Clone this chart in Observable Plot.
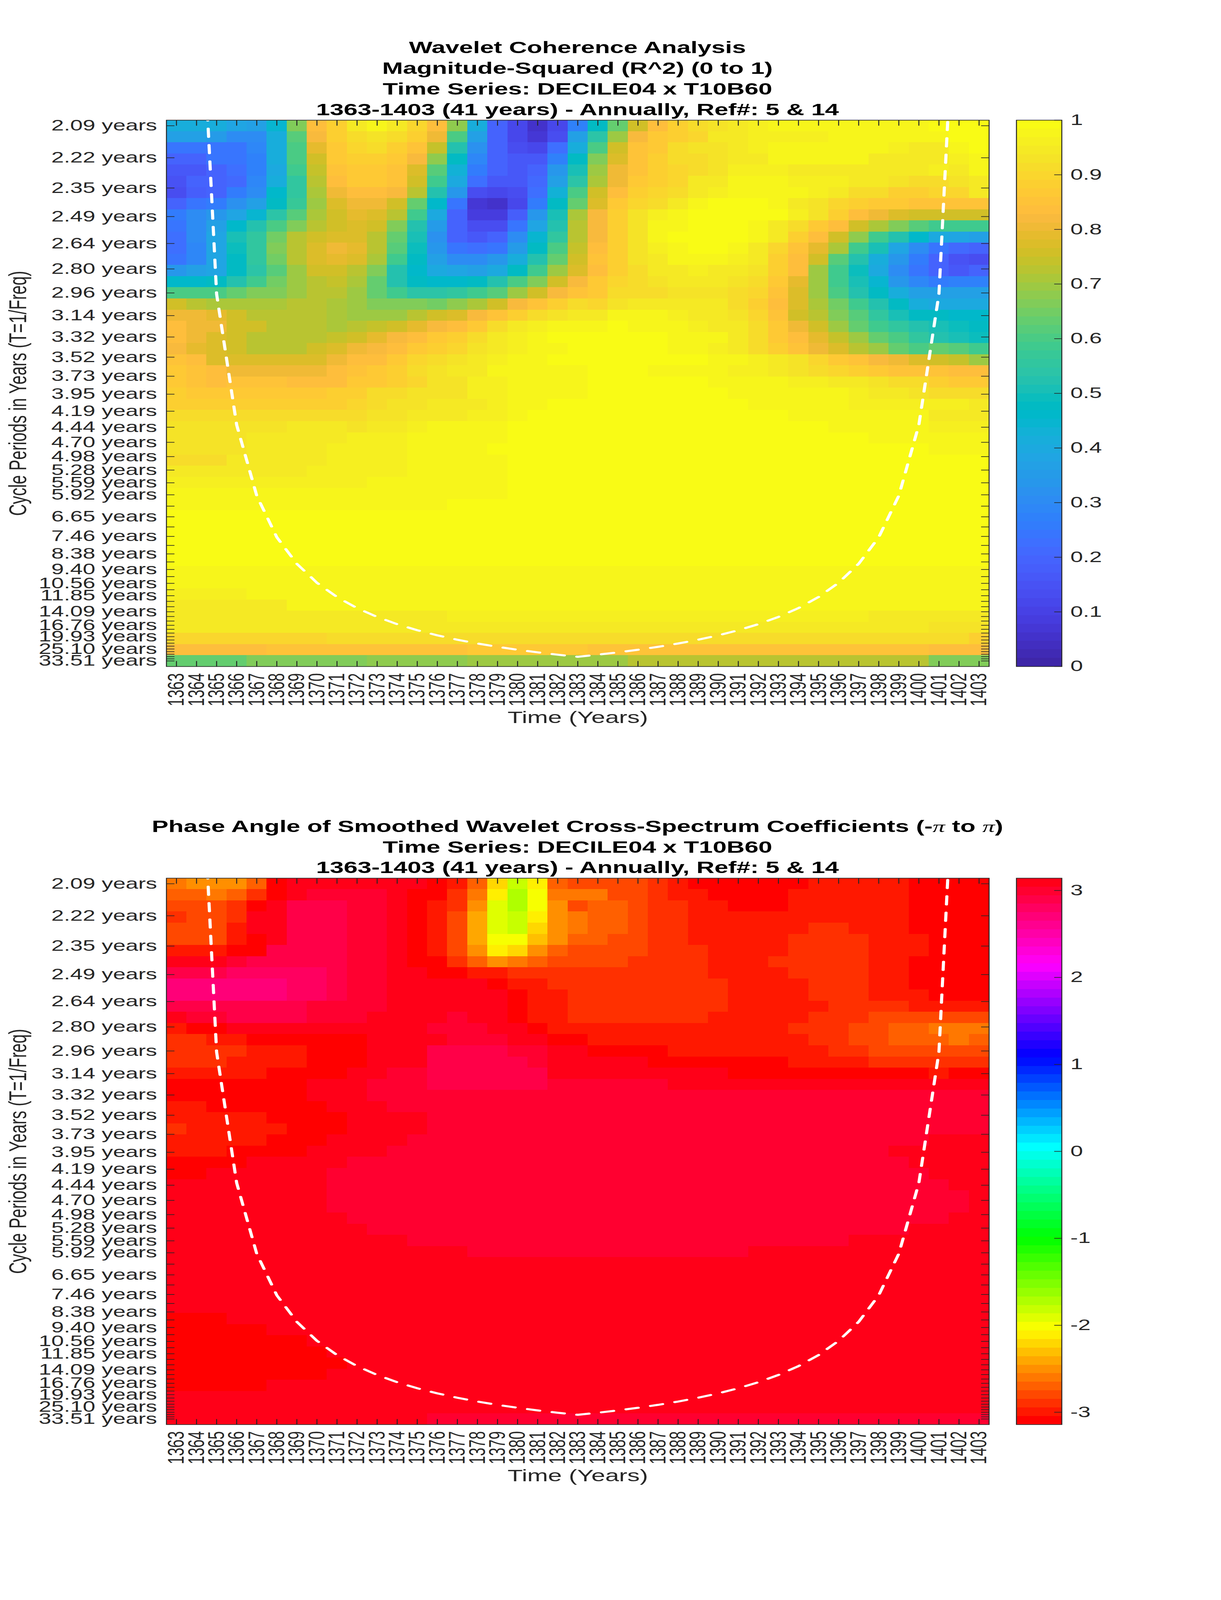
<!DOCTYPE html>
<html><head><meta charset="utf-8">
<script src="https://cdn.jsdelivr.net/npm/d3@7"></script>
<script src="https://cdn.jsdelivr.net/npm/@observablehq/plot@0.6"></script>
<style>
html,body{margin:0;padding:0;background:#fff;overflow:hidden}
#stage{position:relative;width:3125px;height:6252px;overflow:hidden;transform-origin:0 0;font-family:"Liberation Sans",Arial,sans-serif}
.t{position:absolute;left:1478px;transform:translateX(-50%);white-space:nowrap;font-weight:bold;font-size:63.7px;line-height:63.7px;color:#000}
.t span{font-family:"Liberation Serif",serif;font-style:italic;font-weight:normal}
</style></head><body><div id="stage"></div>
<script>
const years = [1363,1364,1365,1366,1367,1368,1369,1370,1371,1372,1373,1374,1375,1376,1377,1378,1379,1380,1381,1382,1383,1384,1385,1386,1387,1388,1389,1390,1391,1392,1393,1394,1395,1396,1397,1398,1399,1400,1401,1402,1403];
const periods = [2.0944,2.2189,2.3509,2.4907,2.6388,2.7957,2.9619,3.1381,3.3247,3.5223,3.7318,3.9537,4.1888,4.4378,4.7018,4.9814,5.2776,5.5914,5.9238,6.2762,6.6494,7.0446,7.4636,7.9074,8.3776,8.8756,9.4036,9.9628,10.5552,11.1828,11.8476,12.5524,13.2988,14.0892,14.9272,15.8148,16.7552,17.7512,18.8072,19.9256,21.1104,22.3656,23.6952,25.1048,26.5976,28.1784,29.8544,31.6296,33.5104];
const periodLabels = ["2.09 years","2.22 years","2.35 years","2.49 years","2.64 years","2.80 years","2.96 years","3.14 years","3.32 years","3.52 years","3.73 years","3.95 years","4.19 years","4.44 years","4.70 years","4.98 years","5.28 years","5.59 years","5.92 years","","6.65 years","","7.46 years","","8.38 years","","9.40 years","","10.56 years","","11.85 years","","","14.09 years","","","16.76 years","","","19.93 years","","","","25.10 years","","","","","33.51 years"];
const coiYearsLeft = [1364,1365,1366,1367,1368,1369,1370,1371,1372,1373,1374,1375,1376,1377,1378,1379,1380,1381,1382,1383,1384,1385,1386,1387,1388,1389,1390,1391,1392,1393,1394,1395,1396,1397,1398,1399,1400,1401,1402];
const coiPeriods = [1.5,2.97,4.4,5.95,7.5,9,10.5,12,13.5,15,16.5,18,19.5,21,22.5,24,25.5,27,28.5,30,28.5,27,25.5,24,22.5,21,19.5,18,16.5,15,13.5,12,10.5,9,7.5,5.95,4.4,2.97,1.5];
const coherenceTicks = [0,0.1,0.2,0.3,0.4,0.5,0.6,0.7,0.8,0.9,1];
const phaseTicks = [-3,-2,-1,0,1,2,3];
const parula = [[.2422,.1504,.6603],[.2504,.165,.7076],[.2578,.1818,.7511],[.2647,.1978,.7952],[.2706,.2147,.8364],[.2751,.2342,.871],[.2783,.2559,.8991],[.2803,.2782,.9221],[.2813,.3006,.9414],[.281,.3228,.9579],[.2795,.3447,.9717],[.276,.3667,.9829],[.2699,.3892,.9906],[.2602,.4123,.9952],[.244,.4358,.9988],[.2206,.4603,.9973],[.1963,.4847,.9892],[.1834,.5074,.9798],[.1786,.5289,.9682],[.1764,.5499,.952],[.1687,.5703,.9359],[.154,.5902,.9218],[.146,.6091,.9079],[.138,.6276,.8973],[.1248,.6459,.8883],[.1113,.6635,.8763],[.0952,.6798,.8598],[.0689,.6948,.8394],[.0297,.7082,.8163],[.0036,.7203,.7917],[.0067,.7312,.766],[.0433,.7411,.7394],[.0964,.75,.712],[.1408,.7584,.6842],[.1717,.767,.6554],[.1938,.7758,.6251],[.2161,.7843,.5923],[.247,.7918,.5567],[.2906,.7973,.5188],[.3406,.8008,.4789],[.3909,.8029,.4354],[.4456,.8024,.3909],[.5044,.7993,.348],[.5616,.7942,.3045],[.6174,.7876,.2612],[.672,.7793,.2227],[.7242,.7698,.191],[.7738,.7598,.1646],[.8203,.7498,.1535],[.8634,.7406,.1596],[.9035,.733,.1774],[.9393,.7288,.21],[.9728,.7298,.2394],[.9956,.7434,.2371],[.997,.7659,.2199],[.9952,.7893,.2028],[.9892,.8136,.1885],[.9786,.8386,.1766],[.9676,.8639,.1643],[.961,.889,.1537],[.9597,.9135,.1423],[.9628,.9373,.1265],[.9691,.9606,.1064],[.9769,.9839,.0805]].map(([r,g,b])=>d3.rgb(r*255,g*255,b*255).formatHex());
const hsv64 = d3.range(64).map(i=>d3.hsl(i/64*360,1,.5).formatHex());

const coherence = [
[.42,.42,.42,.38,.36,.45,.66,.84,.89,.94,.97,.94,.90,.84,.68,.41,.20,.12,.05,.12,.27,.47,.64,.76,.84,.88,.91,.93,.94,.96,.97,.97,.97,.98,.98,.98,.98,.98,.99,.99,.99],
[.36,.36,.35,.30,.30,.42,.62,.82,.88,.92,.93,.91,.88,.81,.60,.37,.20,.12,.07,.14,.36,.54,.70,.82,.86,.89,.90,.95,.95,.96,.96,.96,.96,.98,.98,.98,.97,.97,.98,.99,.99],
[.24,.24,.24,.24,.29,.42,.60,.79,.87,.90,.91,.88,.85,.74,.53,.32,.19,.13,.11,.22,.42,.60,.75,.85,.87,.91,.93,.93,.95,.96,.97,.97,.97,.97,.97,.97,.96,.95,.95,.97,.99],
[.20,.19,.24,.24,.28,.42,.60,.76,.86,.88,.88,.87,.82,.68,.47,.29,.19,.16,.16,.28,.47,.66,.78,.85,.89,.91,.92,.93,.94,.95,.97,.97,.97,.97,.97,.95,.95,.95,.95,.96,.98],
[.16,.17,.20,.22,.28,.40,.58,.74,.85,.87,.87,.85,.77,.62,.43,.26,.19,.17,.20,.33,.51,.70,.81,.85,.89,.90,.91,.93,.96,.96,.96,.95,.95,.95,.95,.94,.94,.94,.96,.95,.97],
[.15,.19,.20,.21,.29,.41,.56,.73,.83,.87,.87,.85,.76,.58,.40,.22,.17,.16,.21,.36,.54,.71,.80,.86,.88,.90,.94,.94,.97,.97,.97,.96,.96,.96,.95,.94,.93,.92,.92,.93,.94],
[.14,.18,.20,.26,.31,.46,.56,.71,.81,.84,.84,.82,.72,.53,.33,.13,.11,.13,.23,.43,.60,.75,.84,.88,.90,.91,.94,.96,.97,.97,.97,.97,.96,.95,.91,.91,.89,.89,.90,.90,.94],
[.20,.24,.26,.32,.37,.47,.57,.70,.77,.80,.80,.76,.64,.46,.24,.07,.05,.12,.26,.47,.64,.78,.86,.90,.92,.95,.97,.99,.99,.99,.98,.95,.93,.90,.88,.87,.86,.85,.85,.85,.85],
[.26,.30,.33,.38,.45,.54,.62,.71,.76,.79,.78,.72,.58,.40,.19,.09,.09,.18,.33,.51,.71,.82,.88,.93,.96,.97,.99,1,1,1,.99,.96,.93,.88,.84,.81,.77,.75,.76,.76,.76],
[.24,.31,.36,.46,.53,.60,.67,.73,.76,.77,.75,.67,.53,.35,.19,.13,.14,.24,.38,.52,.72,.82,.89,.93,.98,.98,.99,.99,.99,.98,.95,.91,.87,.83,.76,.71,.66,.61,.58,.59,.58],
[.22,.30,.38,.50,.56,.65,.72,.76,.78,.78,.73,.64,.50,.32,.20,.17,.19,.30,.44,.56,.73,.82,.89,.93,.98,.99,.99,.99,.99,.98,.94,.89,.84,.76,.68,.58,.52,.46,.40,.39,.37],
[.23,.29,.38,.49,.55,.66,.73,.78,.80,.79,.72,.62,.49,.33,.24,.22,.24,.35,.48,.60,.74,.83,.89,.93,.96,.98,1,.99,.97,.95,.90,.85,.79,.71,.59,.50,.38,.30,.24,.21,.20],
[.24,.29,.38,.47,.55,.65,.72,.77,.79,.77,.71,.58,.47,.36,.31,.30,.33,.42,.52,.63,.75,.85,.89,.93,.95,.97,.97,.97,.96,.95,.89,.84,.76,.62,.53,.41,.33,.25,.20,.15,.14],
[.34,.37,.39,.47,.54,.62,.70,.76,.76,.73,.66,.53,.46,.40,.38,.37,.40,.47,.58,.69,.78,.84,.88,.92,.95,.95,.96,.95,.94,.93,.88,.83,.70,.58,.49,.40,.31,.24,.19,.17,.20],
[.46,.46,.47,.52,.59,.65,.70,.73,.74,.71,.63,.53,.47,.46,.46,.47,.52,.60,.67,.75,.82,.86,.90,.92,.93,.94,.94,.94,.93,.92,.87,.79,.70,.58,.51,.44,.34,.29,.25,.28,.28],
[.60,.60,.60,.63,.66,.67,.70,.72,.72,.70,.63,.58,.54,.54,.55,.58,.62,.70,.76,.82,.85,.87,.91,.92,.92,.93,.93,.93,.92,.90,.85,.78,.70,.60,.53,.47,.41,.37,.37,.36,.36],
[.76,.72,.71,.71,.71,.71,.72,.72,.71,.70,.66,.66,.66,.65,.68,.71,.76,.82,.85,.88,.91,.90,.93,.94,.95,.95,.95,.94,.92,.89,.84,.77,.71,.65,.59,.52,.47,.42,.40,.40,.40],
[.81,.80,.79,.75,.73,.73,.73,.73,.71,.70,.69,.70,.72,.75,.78,.82,.85,.88,.91,.93,.95,.95,.97,.97,.97,.96,.95,.95,.93,.90,.85,.76,.72,.67,.61,.55,.51,.47,.47,.46,.46],
[.83,.81,.80,.76,.76,.73,.73,.72,.71,.72,.74,.76,.79,.82,.84,.87,.91,.94,.96,.97,.97,.98,.99,.98,.98,.98,.96,.95,.94,.91,.86,.81,.75,.69,.63,.59,.55,.52,.51,.49,.47],
[.83,.81,.78,.75,.72,.72,.72,.72,.74,.76,.79,.82,.84,.87,.89,.92,.94,.96,.98,.99,.99,.99,.99,.99,.99,.98,.97,.97,.95,.92,.87,.83,.79,.74,.69,.64,.60,.55,.53,.51,.49],
[.82,.79,.77,.75,.73,.73,.73,.76,.78,.80,.82,.84,.86,.88,.90,.93,.95,.96,.97,.98,.99,.99,.99,.99,.99,.98,.97,.96,.95,.91,.89,.85,.81,.78,.73,.69,.64,.60,.64,.62,.58],
[.85,.83,.78,.77,.77,.77,.77,.77,.80,.83,.84,.87,.90,.91,.93,.95,.96,.97,.98,.99,.99,.99,.99,.99,.99,.99,.99,.98,.97,.96,.95,.93,.90,.87,.85,.82,.80,.77,.75,.74,.70],
[.87,.85,.84,.80,.80,.80,.80,.80,.83,.85,.87,.88,.91,.93,.94,.94,.97,.97,.97,.97,.98,1,1,1,.97,.97,.97,.97,.96,.96,.95,.93,.92,.90,.89,.87,.85,.85,.85,.83,.83],
[.87,.85,.84,.85,.85,.85,.84,.84,.84,.86,.87,.89,.90,.93,.93,.96,.96,.97,.97,.97,.98,1,1,1,1,1,.99,.98,.98,.98,.97,.96,.96,.95,.94,.93,.92,.91,.89,.87,.87],
[.89,.87,.86,.86,.86,.86,.86,.86,.88,.89,.91,.92,.93,.93,.93,.96,.96,.97,.97,.97,.98,1,1,1,1,1,1,.99,.98,.98,.98,.98,.97,.97,.96,.95,.94,.93,.92,.92,.92],
[.89,.89,.89,.88,.88,.88,.88,.88,.88,.90,.91,.93,.93,.94,.95,.95,.96,.97,.97,.99,1,1,1,1,1,1,1,1,1,.98,.98,.98,.98,.98,.96,.96,.96,.96,.96,.96,.95],
[.91,.91,.91,.91,.91,.91,.91,.92,.92,.92,.93,.93,.94,.95,.95,.96,.96,.97,1,1,1,1,1,1,1,1,1,1,1,1,1,.97,.97,.97,.97,.97,.97,.97,.95,.95,.95],
[.93,.93,.93,.93,.93,.93,.94,.94,.94,.93,.95,.95,.96,.97,.97,.97,.97,1,1,1,1,1,1,1,1,1,1,1,1,1,1,1,1,.97,.97,.97,.97,.97,.96,.96,.96],
[.93,.93,.93,.93,.95,.95,.95,.95,.94,.96,.96,.96,.97,.97,.97,.97,.98,1,1,1,1,1,1,1,1,1,1,1,1,1,1,1,1,1,1,.97,.97,.97,.97,.97,.97],
[.93,.93,.93,.93,.95,.95,.95,.95,.96,.96,.96,.96,.98,.98,.98,.98,1,1,1,1,1,1,1,1,1,1,1,1,1,1,1,1,1,1,1,1,1,1,.97,.97,.97],
[.92,.92,.92,.95,.95,.95,.95,.95,.96,.96,.96,.96,.98,.98,.98,.98,.98,1,1,1,1,1,1,1,1,1,1,1,1,1,1,1,1,1,1,1,1,1,1,1,1],
[.94,.94,.94,.94,.94,.94,.94,.96,.96,.96,.96,.96,.98,.98,.98,.98,.98,1,1,1,1,1,1,1,1,1,1,1,1,1,1,1,1,1,1,1,1,1,1,1,1],
[.96,.96,.96,.96,.96,.96,.96,.96,.96,.96,.98,.98,.98,.98,.98,.98,.98,1,1,1,1,1,1,1,1,1,1,1,1,1,1,1,1,1,1,1,1,1,1,1,1],
[.98,.98,.98,.98,.98,.98,.98,.98,.98,.98,.98,.98,.98,.98,.98,.98,.98,1,1,1,1,1,1,1,1,1,1,1,1,1,1,1,1,1,1,1,1,1,1,1,1],
[.98,.98,.98,.98,.98,.98,.98,.98,.98,.98,.98,.98,.98,.98,1,1,1,1,1,1,1,1,1,1,1,1,1,1,1,1,1,1,1,1,1,1,1,1,1,1,1],
[1,1,1,1,1,1,1,1,1,1,1,1,1,1,1,1,1,1,1,1,1,1,1,1,1,1,1,1,1,1,1,1,1,1,1,1,1,1,1,1,1],
[1,1,1,1,1,1,1,1,1,1,1,1,1,1,1,1,1,1,1,1,1,1,1,1,1,1,1,1,1,1,1,1,1,1,1,1,1,1,1,1,1],
[1,1,1,1,1,1,1,1,1,1,1,1,1,1,1,1,1,1,1,1,1,1,1,1,1,1,1,1,1,1,1,1,1,1,1,1,1,1,1,1,1],
[1,1,1,1,1,1,1,1,1,1,1,1,1,1,1,1,1,1,1,1,1,1,1,1,1,1,1,1,1,1,1,1,1,1,1,1,1,1,1,1,1],
[.99,.99,.99,.99,.99,.99,.99,.99,.99,.99,.99,.99,.99,.99,.99,.99,.99,.99,1,1,1,1,1,1,1,1,1,1,1,1,1,1,1,1,1,1,1,1,1,1,1],
[.98,.98,.98,.98,.98,.98,.98,.98,.98,.98,.98,.98,.98,.98,.98,.98,.98,.98,.98,.98,.98,.98,.98,.98,.98,.98,.98,.98,.98,.98,.98,.98,.98,.98,.98,.98,.98,.98,.98,.98,.98],
[.97,.97,.97,.97,.97,.97,.97,.97,.97,.97,.97,.97,.97,.97,.98,.98,.98,.98,.98,.98,.98,.98,.98,.98,.98,.98,.98,.98,.98,.98,.98,.98,.98,.98,.98,.98,.98,.98,.98,.97,.97],
[.96,.96,.96,.96,.97,.97,.97,.97,.97,.97,.97,.97,.97,.97,.97,.97,.97,.97,.97,.97,.97,.97,.97,.97,.97,.97,.97,.97,.97,.97,.97,.97,.97,.97,.97,.97,.97,.97,.97,.97,.97],
[.95,.95,.95,.95,.95,.95,.97,.97,.97,.97,.97,.97,.97,.97,.97,.97,.97,.97,.97,.97,.97,.97,.97,.97,.97,.97,.97,.97,.97,.97,.97,.97,.97,.97,.97,.97,.97,.97,.97,.97,.97],
[.95,.95,.95,.95,.95,.95,.95,.95,.95,.95,.95,.95,.95,.95,.96,.96,.96,.96,.96,.96,.96,.96,.96,.96,.96,.96,.96,.96,.96,.96,.96,.96,.96,.96,.96,.95,.95,.95,.95,.95,.95],
[.94,.94,.94,.94,.94,.94,.94,.94,.94,.94,.95,.95,.95,.95,.95,.95,.95,.95,.95,.95,.95,.95,.95,.95,.95,.95,.95,.95,.95,.95,.95,.95,.95,.95,.95,.95,.95,.95,.93,.93,.93],
[.90,.90,.90,.90,.90,.90,.90,.90,.92,.92,.92,.92,.92,.92,.92,.92,.92,.92,.92,.92,.92,.92,.92,.92,.92,.92,.92,.92,.92,.92,.92,.92,.92,.92,.92,.92,.92,.92,.92,.92,.88],
[.84,.84,.84,.84,.84,.85,.85,.85,.85,.85,.85,.85,.85,.85,.85,.86,.86,.86,.86,.86,.86,.85,.85,.85,.85,.85,.85,.85,.85,.85,.85,.85,.85,.85,.85,.85,.85,.85,.83,.83,.83],
[.63,.63,.63,.63,.66,.66,.66,.66,.66,.66,.68,.68,.68,.68,.68,.70,.70,.70,.70,.70,.70,.70,.70,.72,.72,.72,.72,.72,.72,.72,.72,.72,.72,.72,.72,.72,.72,.72,.67,.67,.67]
];

const phase = [
[-2.6,-2.5,-2.5,-2.5,-2.7,-3.09,3.09,3.09,3.09,3.09,3.09,3.09,3.09,-3.09,-2.99,-2.7,-2.21,-1.82,-2.11,-2.7,-2.8,-2.8,-2.8,-2.8,-2.9,-2.99,-3.09,-3.09,-3.09,-3.09,-3.09,-3.09,-2.99,-2.99,-2.99,-2.99,-2.99,-3.09,-3.09,-3.09,-3.09],
[-2.7,-2.7,-2.6,-2.7,-2.9,-3.09,3.09,2.99,2.99,2.99,2.99,3.09,-3.09,-3.09,-2.9,-2.6,-2.11,-1.72,-2.01,-2.6,-2.6,-2.6,-2.8,-2.8,-2.9,-2.99,-2.99,-3.09,-3.09,-3.09,-3.09,-2.99,-2.99,-2.99,-2.99,-2.99,-2.99,-3.09,-3.09,-3.09,-3.09],
[-2.8,-2.8,-2.8,-2.9,-3.09,3.09,2.9,2.9,2.9,2.99,2.99,3.09,-3.09,-2.99,-2.9,-2.5,-1.91,-1.72,-2.01,-2.5,-2.8,-2.7,-2.7,-2.8,-2.9,-2.9,-2.99,-2.99,-3.09,-3.09,-3.09,-2.99,-2.99,-2.99,-2.99,-2.99,-2.99,-3.09,-3.09,-3.09,-3.09],
[-2.9,-2.8,-2.8,-2.9,3.09,3.09,2.9,2.9,2.9,2.99,2.99,3.09,-3.09,-2.99,-2.8,-2.41,-1.91,-1.82,-2.11,-2.5,-2.6,-2.7,-2.7,-2.8,-2.9,-2.9,-2.99,-2.99,-2.99,-2.99,-2.99,-2.99,-2.99,-2.99,-2.99,-2.99,-2.99,-3.09,-3.09,-3.09,-3.09],
[-2.8,-2.8,-2.8,-2.99,3.09,3.09,2.9,2.9,2.9,2.99,2.99,3.09,-3.09,-2.99,-2.8,-2.41,-1.91,-1.82,-2.21,-2.5,-2.6,-2.7,-2.7,-2.8,-2.9,-2.9,-2.99,-2.99,-2.99,-2.99,-2.99,-2.99,-2.9,-2.9,-2.99,-2.99,-2.99,-3.09,-3.09,-3.09,-3.09],
[-2.8,-2.8,-2.8,-2.99,-3.09,3.09,2.9,2.9,2.9,2.99,2.99,3.09,-3.09,-2.99,-2.8,-2.41,-2.01,-2.01,-2.31,-2.5,-2.7,-2.7,-2.8,-2.8,-2.9,-2.9,-2.99,-2.99,-2.99,-2.99,-2.99,-2.9,-2.9,-2.9,-2.9,-2.99,-2.99,-2.99,-3.09,-3.09,-3.09],
[-2.99,-2.99,-2.99,-3.09,-3.09,2.9,2.9,2.9,2.9,2.99,2.99,3.09,-3.09,-2.99,-2.8,-2.5,-2.11,-2.21,-2.5,-2.7,-2.8,-2.8,-2.8,-2.8,-2.9,-2.9,-2.9,-2.99,-2.99,-2.99,-2.99,-2.9,-2.9,-2.9,-2.9,-2.99,-2.99,-2.99,-3.09,-3.09,-3.09],
[3.09,3.09,3.09,2.99,2.9,2.9,2.9,2.9,2.9,2.99,2.99,3.09,-3.09,-3.09,-2.9,-2.7,-2.5,-2.6,-2.7,-2.8,-2.8,-2.8,-2.8,-2.9,-2.9,-2.9,-2.9,-2.99,-2.99,-2.99,-2.9,-2.9,-2.9,-2.9,-2.9,-2.99,-2.99,-3.09,-3.09,-3.09,-3.09],
[2.9,2.9,2.9,2.8,2.8,2.8,2.8,2.8,2.9,2.99,2.99,3.09,3.09,-3.09,-3.09,-2.99,-2.99,-2.9,-2.9,-2.9,-2.9,-2.9,-2.9,-2.9,-2.9,-2.9,-2.9,-2.99,-2.99,-2.99,-2.99,-2.9,-2.9,-2.9,-2.9,-2.99,-2.99,-3.09,-3.09,-3.09,-3.09],
[2.7,2.7,2.7,2.7,2.7,2.7,2.8,2.8,2.9,2.99,2.99,3.09,3.09,3.09,3.09,3.09,-3.09,-2.99,-2.99,-2.9,-2.9,-2.9,-2.9,-2.9,-2.9,-2.9,-2.9,-2.9,-2.99,-2.99,-2.99,-2.99,-2.9,-2.9,-2.9,-2.99,-2.99,-3.09,-3.09,-3.09,-3.09],
[2.7,2.7,2.7,2.7,2.7,2.7,2.8,2.8,2.9,2.99,2.99,3.09,3.09,3.09,3.09,3.09,3.09,-3.09,-2.99,-2.99,-2.9,-2.9,-2.9,-2.9,-2.9,-2.9,-2.9,-2.9,-2.99,-2.99,-2.99,-2.99,-2.9,-2.9,-2.9,-2.99,-2.99,-2.99,-3.09,-3.09,-3.09],
[2.9,2.9,2.9,2.9,2.9,2.9,2.9,2.99,2.99,2.99,2.99,3.09,3.09,3.09,3.09,3.09,3.09,-3.09,-2.99,-2.99,-2.9,-2.9,-2.9,-2.9,-2.9,-2.9,-2.9,-2.9,-2.99,-2.99,-2.99,-2.99,-2.99,-2.9,-2.9,-2.9,-2.9,-2.99,-2.99,-2.99,-2.99],
[3.09,2.99,2.99,2.9,2.9,2.9,2.9,2.99,2.99,2.99,3.09,3.09,3.09,3.09,2.99,3.09,3.09,-3.09,-2.99,-2.99,-2.9,-2.9,-2.9,-2.9,-2.9,-2.9,-2.9,-2.99,-2.99,-2.99,-2.99,-2.99,-2.9,-2.9,-2.9,-2.8,-2.8,-2.8,-2.8,-2.8,-2.8],
[-2.99,-3.09,-3.09,3.09,3.09,3.09,3.09,3.09,3.09,3.09,3.09,3.09,3.09,2.99,2.99,2.99,3.09,3.09,-3.09,-2.99,-2.99,-2.99,-2.99,-2.99,-2.99,-2.99,-2.99,-2.99,-2.99,-2.99,-2.99,-2.9,-2.9,-2.9,-2.8,-2.8,-2.7,-2.7,-2.6,-2.6,-2.6],
[-2.9,-2.9,-2.99,-2.99,-3.09,-3.09,-3.09,-3.09,-3.09,-3.09,3.09,3.09,3.09,3.09,2.99,2.99,2.99,3.09,3.09,-3.09,-3.09,-2.99,-2.99,-2.99,-2.99,-2.99,-2.99,-2.99,-2.99,-2.99,-2.99,-2.99,-2.9,-2.9,-2.8,-2.8,-2.7,-2.7,-2.7,-2.6,-2.7],
[-2.9,-2.9,-2.9,-2.9,-2.99,-2.99,-2.99,-3.09,-3.09,-3.09,3.09,3.09,3.09,2.9,2.9,2.9,2.9,2.99,2.99,3.09,3.09,-3.09,-3.09,-3.09,-3.09,-2.99,-2.99,-2.99,-2.99,-2.99,-2.99,-2.99,-2.99,-2.9,-2.9,-2.8,-2.8,-2.8,-2.8,-2.8,-2.8],
[-2.9,-2.9,-2.9,-2.99,-2.99,-2.99,-2.99,-3.09,-3.09,-3.09,3.09,3.09,3.09,2.9,2.9,2.9,2.9,2.9,2.99,3.09,3.09,3.09,3.09,3.09,-3.09,-3.09,-3.09,-3.09,-3.09,-3.09,-3.09,-2.99,-2.99,-2.99,-2.99,-2.9,-2.9,-2.9,-2.9,-2.9,-2.9],
[-2.99,-2.99,-2.99,-2.99,-2.99,-3.09,-3.09,-3.09,-3.09,3.09,3.09,2.99,2.99,2.9,2.9,2.9,2.9,2.9,2.9,3.09,3.09,3.09,3.09,3.09,3.09,3.09,3.09,3.09,-3.09,-3.09,-3.09,-3.09,-3.09,-3.09,-3.09,-3.09,-3.09,-3.09,-2.99,-3.09,-3.09],
[-3.09,-3.09,-3.09,-3.09,-3.09,-3.09,-3.09,3.09,3.09,3.09,2.99,2.99,2.99,2.9,2.9,2.9,2.9,2.9,2.9,2.99,2.99,2.99,2.99,2.99,2.99,3.09,3.09,3.09,3.09,3.09,3.09,3.09,3.09,3.09,3.09,3.09,3.09,3.09,3.09,3.09,3.09],
[-3.09,-3.09,-3.09,-3.09,-3.09,-3.09,-3.09,3.09,3.09,3.09,2.99,2.99,2.99,2.99,2.99,2.99,2.99,2.99,2.99,2.99,2.99,2.99,2.99,2.99,2.99,2.99,2.99,2.99,2.99,2.99,2.99,2.99,2.99,2.99,2.99,2.99,2.99,2.99,2.99,2.99,2.99],
[-2.99,-2.99,-3.09,-3.09,-3.09,-3.09,-3.09,-3.09,3.09,3.09,3.09,2.99,2.99,2.99,2.99,2.99,2.99,2.99,2.99,2.99,2.99,2.99,2.99,2.99,2.99,2.99,2.99,2.99,2.99,2.99,2.99,2.99,2.99,2.99,2.99,2.99,2.99,2.99,2.99,2.99,2.99],
[-2.99,-2.99,-2.99,-2.99,-2.99,-3.09,-3.09,-3.09,-3.09,3.09,3.09,3.09,3.09,2.99,2.99,2.99,2.99,2.99,2.99,2.99,2.99,2.99,2.99,2.99,2.99,2.99,2.99,2.99,2.99,2.99,2.99,2.99,2.99,2.99,2.99,2.99,2.99,2.99,2.99,2.99,2.99],
[-2.9,-2.99,-2.99,-2.99,-2.99,-2.99,-3.09,-3.09,-3.09,3.09,3.09,3.09,3.09,2.99,2.99,2.99,2.99,2.99,2.99,2.99,2.99,2.99,2.99,2.99,2.99,2.99,2.99,2.99,2.99,2.99,2.99,2.99,2.99,2.99,2.99,2.99,2.99,2.99,2.99,2.99,2.99],
[-2.99,-2.99,-2.99,-2.99,-2.99,-3.09,-3.09,-3.09,3.09,3.09,3.09,3.09,2.99,2.99,2.99,2.99,2.99,2.99,2.99,2.99,2.99,2.99,2.99,2.99,2.99,2.99,2.99,2.99,2.99,2.99,2.99,2.99,2.99,2.99,2.99,2.99,2.99,2.99,3.09,3.09,3.09],
[-2.99,-2.99,-2.99,-3.09,-3.09,-3.09,-3.09,3.09,3.09,3.09,3.09,2.99,2.99,2.99,2.99,2.99,2.99,2.99,2.99,2.99,2.99,2.99,2.99,2.99,2.99,2.99,2.99,2.99,2.99,2.99,2.99,2.99,2.99,2.99,2.99,2.99,3.09,3.09,3.09,3.09,3.09],
[-3.09,-3.09,-3.09,-3.09,3.09,3.09,3.09,3.09,3.09,2.99,2.99,2.99,2.99,2.99,2.99,2.99,2.99,2.99,2.99,2.99,2.99,2.99,2.99,2.99,2.99,2.99,2.99,2.99,2.99,2.99,2.99,2.99,2.99,2.99,2.99,2.99,2.99,3.09,3.09,3.09,3.09],
[-3.09,-3.09,3.09,3.09,3.09,3.09,3.09,3.09,2.99,2.99,2.99,2.99,2.99,2.99,2.99,2.99,2.99,2.99,2.99,2.99,2.99,2.99,2.99,2.99,2.99,2.99,2.99,2.99,2.99,2.99,2.99,2.99,2.99,2.99,2.99,2.99,2.99,2.99,3.09,3.09,3.09],
[3.09,3.09,3.09,3.09,3.09,3.09,3.09,3.09,2.99,2.99,2.99,2.99,2.99,2.99,2.99,2.99,2.99,2.99,2.99,2.99,2.99,2.99,2.99,2.99,2.99,2.99,2.99,2.99,2.99,2.99,2.99,2.99,2.99,2.99,2.99,2.99,2.99,2.99,2.99,3.09,3.09],
[3.09,3.09,3.09,3.09,3.09,3.09,3.09,3.09,2.99,2.99,2.99,2.99,2.99,2.99,2.99,2.99,2.99,2.99,2.99,2.99,2.99,2.99,2.99,2.99,2.99,2.99,2.99,2.99,2.99,2.99,2.99,2.99,2.99,2.99,2.99,2.99,2.99,2.99,2.99,2.99,3.09],
[3.09,3.09,3.09,3.09,3.09,3.09,3.09,3.09,2.99,2.99,2.99,2.99,2.99,2.99,2.99,2.99,2.99,2.99,2.99,2.99,2.99,2.99,2.99,2.99,2.99,2.99,2.99,2.99,2.99,2.99,2.99,2.99,2.99,2.99,2.99,2.99,2.99,2.99,2.99,2.99,3.09],
[3.09,3.09,3.09,3.09,3.09,3.09,3.09,3.09,3.09,2.99,2.99,2.99,2.99,2.99,2.99,2.99,2.99,2.99,2.99,2.99,2.99,2.99,2.99,2.99,2.99,2.99,2.99,2.99,2.99,2.99,2.99,2.99,2.99,2.99,2.99,2.99,2.99,2.99,2.99,3.09,3.09],
[3.09,3.09,3.09,3.09,3.09,3.09,3.09,3.09,3.09,3.09,2.99,2.99,2.99,2.99,2.99,2.99,2.99,2.99,2.99,2.99,2.99,2.99,2.99,2.99,2.99,2.99,2.99,2.99,2.99,2.99,2.99,2.99,2.99,2.99,2.99,2.99,2.99,3.09,3.09,3.09,3.09],
[3.09,3.09,3.09,3.09,3.09,3.09,3.09,3.09,3.09,3.09,3.09,3.09,2.99,2.99,2.99,2.99,2.99,2.99,2.99,2.99,2.99,2.99,2.99,2.99,2.99,2.99,2.99,2.99,2.99,2.99,2.99,2.99,2.99,2.99,3.09,3.09,3.09,3.09,3.09,3.09,3.09],
[3.09,3.09,3.09,3.09,3.09,3.09,3.09,3.09,3.09,3.09,3.09,3.09,3.09,3.09,3.09,2.99,2.99,2.99,2.99,2.99,2.99,2.99,2.99,2.99,2.99,2.99,2.99,2.99,2.99,3.09,3.09,3.09,3.09,3.09,3.09,3.09,3.09,3.09,3.09,3.09,3.09],
[3.09,3.09,3.09,3.09,3.09,3.09,3.09,3.09,3.09,3.09,3.09,3.09,3.09,3.09,3.09,3.09,3.09,3.09,3.09,3.09,3.09,3.09,3.09,3.09,3.09,3.09,3.09,3.09,3.09,3.09,3.09,3.09,3.09,3.09,3.09,3.09,3.09,3.09,3.09,3.09,3.09],
[3.09,3.09,3.09,3.09,3.09,3.09,3.09,3.09,3.09,3.09,3.09,3.09,3.09,3.09,3.09,3.09,3.09,3.09,3.09,3.09,3.09,3.09,3.09,3.09,3.09,3.09,3.09,3.09,3.09,3.09,3.09,3.09,3.09,3.09,3.09,3.09,3.09,3.09,3.09,3.09,3.09],
[3.09,3.09,3.09,3.09,3.09,3.09,3.09,3.09,3.09,3.09,3.09,3.09,3.09,3.09,3.09,3.09,3.09,3.09,3.09,3.09,3.09,3.09,3.09,3.09,3.09,3.09,3.09,3.09,3.09,3.09,3.09,3.09,3.09,3.09,3.09,3.09,3.09,3.09,3.09,3.09,3.09],
[3.09,3.09,3.09,3.09,3.09,3.09,3.09,3.09,3.09,3.09,3.09,3.09,3.09,3.09,3.09,3.09,3.09,3.09,3.09,3.09,3.09,3.09,3.09,3.09,3.09,3.09,3.09,3.09,3.09,3.09,3.09,3.09,3.09,3.09,3.09,3.09,3.09,3.09,3.09,3.09,3.09],
[3.09,3.09,3.09,3.09,3.09,3.09,3.09,3.09,3.09,3.09,3.09,3.09,3.09,3.09,3.09,3.09,3.09,3.09,3.09,3.09,3.09,3.09,3.09,3.09,3.09,3.09,3.09,3.09,3.09,3.09,3.09,3.09,3.09,3.09,3.09,3.09,3.09,3.09,3.09,3.09,3.09],
[-3.09,-3.09,-3.09,3.09,3.09,3.09,3.09,3.09,3.09,3.09,3.09,3.09,3.09,3.09,3.09,3.09,3.09,3.09,3.09,3.09,3.09,3.09,3.09,3.09,3.09,3.09,3.09,3.09,3.09,3.09,3.09,3.09,3.09,3.09,3.09,3.09,3.09,3.09,3.09,3.09,3.09],
[-3.09,-3.09,-3.09,-3.09,-3.09,3.09,3.09,3.09,3.09,3.09,3.09,3.09,3.09,3.09,3.09,3.09,3.09,3.09,3.09,3.09,3.09,3.09,3.09,3.09,3.09,3.09,3.09,3.09,3.09,3.09,3.09,3.09,3.09,3.09,3.09,3.09,3.09,3.09,3.09,3.09,3.09],
[-3.09,-3.09,-3.09,-3.09,-3.09,-3.09,-3.09,3.09,3.09,3.09,3.09,3.09,3.09,3.09,3.09,3.09,3.09,3.09,3.09,3.09,3.09,3.09,3.09,3.09,3.09,3.09,3.09,3.09,3.09,3.09,3.09,3.09,3.09,3.09,3.09,3.09,3.09,3.09,3.09,3.09,3.09],
[-3.09,-3.09,-3.09,-3.09,-3.09,-3.09,-3.09,-3.09,3.09,3.09,3.09,3.09,3.09,3.09,3.09,3.09,3.09,3.09,3.09,3.09,3.09,3.09,3.09,3.09,3.09,3.09,3.09,3.09,3.09,3.09,3.09,3.09,3.09,3.09,3.09,3.09,3.09,3.09,3.09,3.09,3.09],
[-3.09,-3.09,-3.09,-3.09,-3.09,-3.09,-3.09,-3.09,-3.09,3.09,3.09,3.09,3.09,3.09,3.09,3.09,3.09,3.09,3.09,3.09,3.09,3.09,3.09,3.09,3.09,3.09,3.09,3.09,3.09,3.09,3.09,3.09,3.09,3.09,3.09,3.09,3.09,3.09,3.09,3.09,3.09],
[-3.09,-3.09,-3.09,-3.09,-3.09,-3.09,-3.09,-3.09,3.09,3.09,3.09,3.09,3.09,3.09,3.09,3.09,3.09,3.09,3.09,3.09,3.09,3.09,3.09,3.09,3.09,3.09,3.09,3.09,3.09,3.09,3.09,3.09,3.09,3.09,3.09,3.09,3.09,3.09,3.09,3.09,3.09],
[-3.09,-3.09,-3.09,-3.09,-3.09,3.09,3.09,3.09,3.09,3.09,3.09,3.09,3.09,3.09,3.09,3.09,3.09,3.09,3.09,3.09,3.09,3.09,3.09,3.09,3.09,3.09,3.09,3.09,3.09,3.09,3.09,3.09,3.09,3.09,3.09,3.09,3.09,3.09,3.09,3.09,3.09],
[3.09,3.09,3.09,3.09,3.09,3.09,3.09,3.09,3.09,3.09,3.09,3.09,3.09,3.09,3.09,3.09,3.09,3.09,3.09,3.09,3.09,3.09,3.09,3.09,3.09,3.09,3.09,3.09,3.09,3.09,3.09,3.09,3.09,3.09,3.09,3.09,3.09,3.09,3.09,3.09,3.09],
[3.09,3.09,3.09,3.09,3.09,3.09,3.09,3.09,3.09,3.09,3.09,3.09,3.09,3.09,3.09,3.09,3.09,3.09,3.09,3.09,3.09,3.09,3.09,3.09,3.09,3.09,3.09,3.09,3.09,3.09,3.09,3.09,3.09,3.09,3.09,3.09,3.09,3.09,3.09,3.09,3.09],
[3.09,3.09,3.09,3.09,3.09,3.09,3.09,3.09,3.09,3.09,3.09,3.09,3.09,2.99,2.99,2.99,2.99,2.99,2.99,2.99,2.99,2.99,2.99,2.99,2.99,2.99,2.99,2.99,2.99,2.99,2.99,2.99,2.99,2.99,2.99,2.99,2.99,2.99,2.99,2.99,2.99]
];

const INK = "#262626", FONT = '"Liberation Sans",Arial,sans-serif';
const TICK = 58, LABEL = 63.7;
const stage = document.getElementById("stage");
// The window can be shorter than the 6252px figure: fit the whole figure into it.
const fit = Math.min(1, window.innerHeight/6252);
stage.style.transform = `scale(1,${fit})`;
const fTop = 1/periods[0], fBot = 1/periods[periods.length-1], df = (fTop-fBot)/(periods.length-1);
const labelOf = new Map(periods.map((p,i)=>[1/p,periodLabels[i]]));
const coiFreq = coiYearsLeft.map((y,i)=>({year:y,f:1/coiPeriods[i]}));
const PX = {left:425.5,right:2531,barL:2600.5,barR:2716.6,h:2135};

function cellsOf(rows){
  const out=[];
  rows.forEach((row,r)=>row.forEach((v,c)=>out.push({x1:years[c]-.5,x2:years[c]+.5,y1:fTop-(r+.5)*df,y2:fTop-(r-.5)*df,v})));
  return out;
}
function place(el,left,top){el.style.position="absolute";el.style.left=left+"px";el.style.top=top+"px";el.style.overflow="visible";el.style.maxWidth="none";stage.appendChild(el);}

function panel(rows,top,colorOpts){
  const mT=10,mB=260,w=2560,mL=PX.left;
  const p = Plot.plot({
    width:w,height:PX.h+mT+mB,marginLeft:mL,marginRight:w-PX.right,marginTop:mT,marginBottom:mB,
    style:{fontFamily:FONT,background:"transparent",overflow:"visible"},
    x:{type:"linear",domain:[years[0]-.5,years[years.length-1]+.5]},
    y:{type:"linear",domain:[fBot-df/2,fTop+df/2]},
    color:colorOpts,
    marks:[
      Plot.rect(cellsOf(rows),{x1:"x1",x2:"x2",y1:"y1",y2:"y2",fill:"v",shapeRendering:"crispEdges"}),
      Plot.line(coiFreq,{x:"year",y:"f",stroke:"#fff",strokeWidth:8,strokeDasharray:"32,32",curve:"linear",clip:true}),
      Plot.frame({stroke:INK,strokeWidth:2.5}),
      Plot.axisX({anchor:"bottom",ticks:years,tickSize:-21,tickRotate:-90,tickPadding:47,tickFormat:d=>String(d),fontSize:TICK,label:null,stroke:INK,strokeWidth:2.5,fill:INK}),
      Plot.axisX({anchor:"top",ticks:years,tickSize:-21,label:null,stroke:INK,strokeWidth:2.5,fill:"none"}),
      Plot.axisY({anchor:"left",ticks:periods.map(p=>1/p),tickSize:-21,tickPadding:45,tickFormat:d=>labelOf.get(d)||"",fontSize:TICK,label:null,stroke:INK,strokeWidth:2.5,fill:INK}),
      Plot.axisY({anchor:"right",ticks:periods.map(p=>1/p),tickSize:-21,label:null,stroke:INK,strokeWidth:2.5,fill:"none"}),
      Plot.text(["Time (Years)"],{frameAnchor:"bottom",dy:201,fontSize:LABEL,fill:INK,lineAnchor:"middle"}),
      Plot.text(["Cycle Periods in Years (T=1/Freq)"],{frameAnchor:"left",dx:-379,rotate:-90,fontSize:LABEL,fill:INK,lineAnchor:"middle",textAnchor:"middle"})
    ]
  });
  place(p,0,top-mT);
}
function colorbar(top,colorOpts,ticks){
  const mT=10,mB=30,bw=PX.barR-PX.barL,mR=140,mL=10;
  const [lo,hi]=colorOpts.domain,n=64;
  const bands=d3.range(n).map(i=>({a:lo+(hi-lo)*i/n,b:lo+(hi-lo)*(i+1)/n,v:lo+(hi-lo)*(i+.5)/n}));
  const p = Plot.plot({
    width:bw+mL+mR,height:PX.h+mT+mB,marginLeft:mL,marginRight:mR,marginTop:mT,marginBottom:mB,
    style:{fontFamily:FONT,background:"transparent",overflow:"visible"},
    x:{type:"linear",domain:[0,1],axis:null},
    y:{type:"linear",domain:[lo,hi]},
    color:colorOpts,
    marks:[
      Plot.rect(bands,{x1:0,x2:1,y1:"a",y2:"b",fill:"v",shapeRendering:"crispEdges"}),
      Plot.frame({stroke:INK,strokeWidth:2.5}),
      Plot.axisY({anchor:"right",ticks,tickSize:-20,tickPadding:42,tickFormat:d=>String(d),fontSize:TICK,label:null,stroke:INK,strokeWidth:2.5,fill:INK})
    ]
  });
  place(p,PX.barL-mL,top-mT);
}
function titleLines(lines){
  for(const [html,base] of lines){
    const d=document.createElement("div");d.className="t";d.innerHTML=html;d.style.top=(base-53.9)+"px";stage.appendChild(d);
  }
}
const cohColor={type:"quantize",domain:[0,1],range:parula};
const phaseColor={type:"quantize",domain:[-Math.PI,Math.PI],range:hsv64};

titleLines([["Wavelet Coherence Analysis",208],["Magnitude-Squared (R^2) (0 to 1)",289],["Time Series: DECILE04 x T10B60",369.5],["1363-1403 (41 years) - Annually, Ref#: 5 &amp; 14",450.5]]);
panel(coherence,469,cohColor);
colorbar(469,cohColor,coherenceTicks);

titleLines([["Phase Angle of Smoothed Wavelet Cross-Spectrum Coefficients (-<span>π</span> to <span>π</span>)",3251],["Time Series: DECILE04 x T10B60",3332],["1363-1403 (41 years) - Annually, Ref#: 5 &amp; 14",3412]]);
panel(phase,3431,phaseColor);
colorbar(3431,phaseColor,phaseTicks);
</script></body></html>
